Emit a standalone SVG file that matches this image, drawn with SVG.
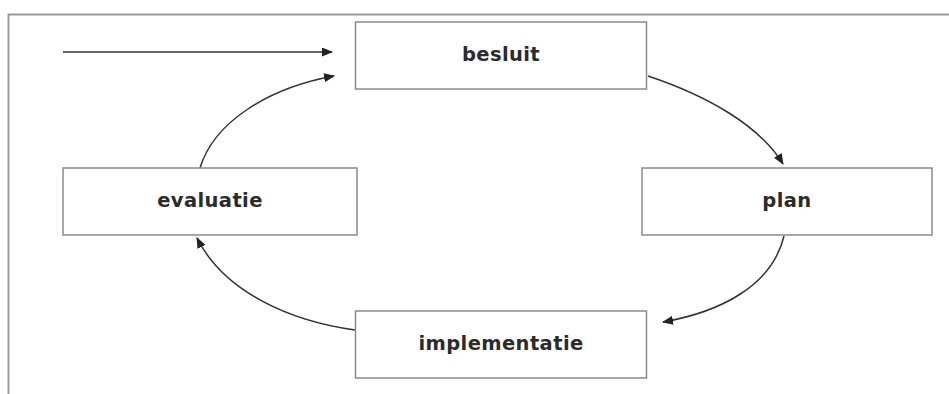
<svg xmlns="http://www.w3.org/2000/svg" width="949" height="394" viewBox="0 0 949 394">
<style>
.box{fill:#fff;stroke:#8a8a8a;stroke-width:1.5}
.lbl{font-family:"DejaVu Sans",sans-serif;font-weight:bold;font-size:19.5px;fill:#2b2b2b;text-anchor:middle;letter-spacing:0.4px}
.edge{fill:none;stroke:#333;stroke-width:1.5;marker-end:url(#ah)}
.frame{stroke:#9a9a9a;stroke-width:2;fill:none}
</style>
<defs>
<marker id="ah" viewBox="0 0 11 9" refX="10" refY="4.5" markerWidth="11" markerHeight="9" markerUnits="userSpaceOnUse" orient="auto">
<path d="M0,0 L11,4.5 L0,9 Z" fill="#222"/>
</marker>
</defs>
<rect width="949" height="394" fill="#fff"/>
<path class="frame" d="M8.5,394 L8.5,14.5 L949,14.5"/>
<g id="connectors">
<path class="edge" d="M63,52 L332,52"/>
<path class="edge" d="M200,168 C214,122 268,88 334,76"/>
<path class="edge" d="M648,76 C708,96 760,126 783,164"/>
<path class="edge" d="M784,236 C772,286 720,312 663,322"/>
<path class="edge" d="M355,330 C290,321 224,292 197,238"/>
</g>
<g id="besluit"><rect class="box" x="355.5" y="22" width="291" height="67"/><text class="lbl" x="501" y="61">besluit</text></g>
<g id="plan"><rect class="box" x="642" y="168" width="290" height="67"/><text class="lbl" x="787" y="207">plan</text></g>
<g id="implementatie"><rect class="box" x="355.5" y="311" width="291" height="67"/><text class="lbl" x="501" y="350">implementatie</text></g>
<g id="evaluatie"><rect class="box" x="63" y="168" width="294" height="67"/><text class="lbl" x="210" y="207">evaluatie</text></g>
</svg>
